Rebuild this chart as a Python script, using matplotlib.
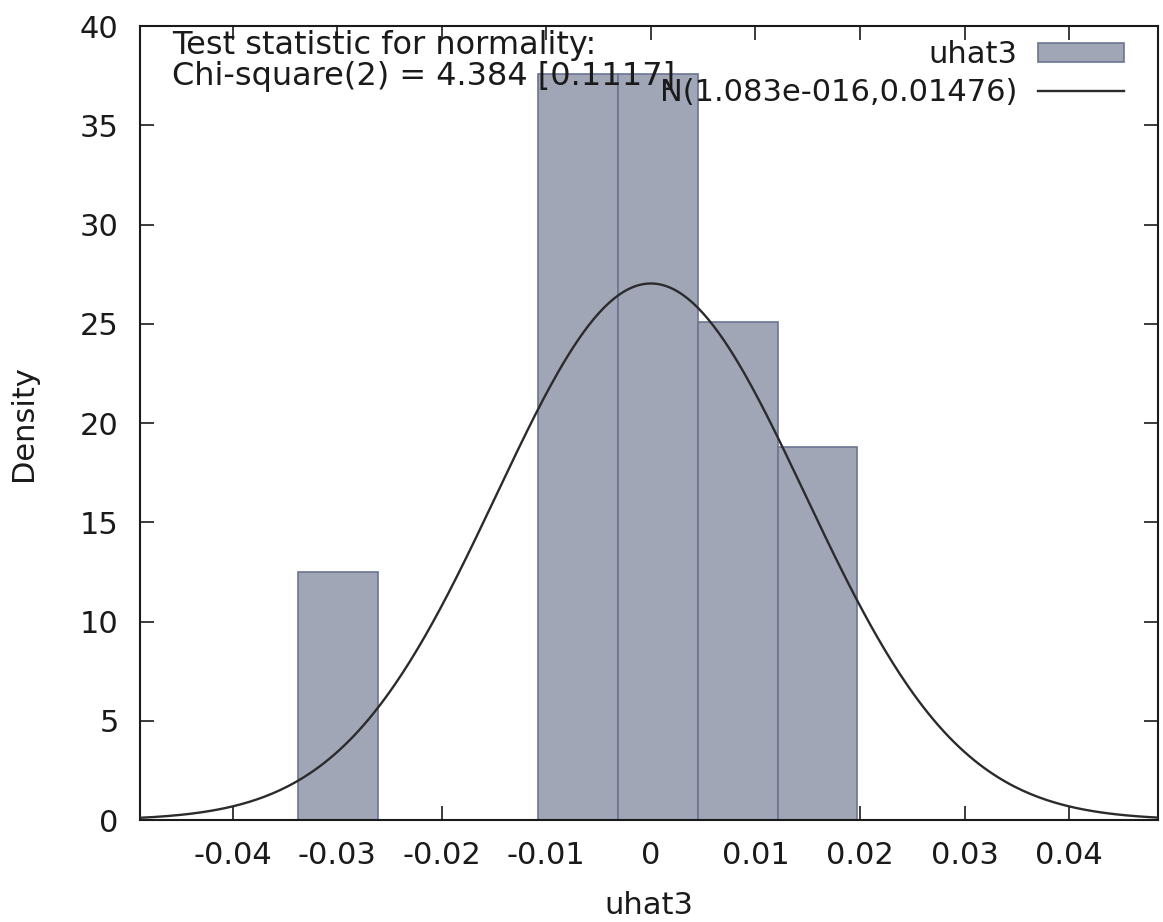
import matplotlib
import matplotlib.pyplot as plt
import numpy as np

matplotlib.use('Agg')

# histogram of uhat3 (density scale)
bin_left = [-0.03372, -0.01080, -0.00316, 0.00448, 0.01212]
bin_width = 0.00764
density = [12.5, 37.6, 37.6, 25.1, 18.8]

# normal fit shown in the legend
mu = 1.083e-16
sigma = 0.01476

x_ticks = [-0.04, -0.03, -0.02, -0.01, 0, 0.01, 0.02, 0.03, 0.04]
x_ticklabels = ['-0.04', '-0.03', '-0.02', '-0.01', '0', '0.01', '0.02', '0.03', '0.04']
y_ticks = [0, 5, 10, 15, 20, 25, 30, 35, 40]

fill_col = '#a0a6b6'
edge_col = '#6b7690'
ink = '#1a1a1a'
fs = 22

plt.rcParams['font.family'] = ['DejaVu Sans']
fig = plt.figure(figsize=(11.63, 9.22), dpi=100)
ax = fig.add_axes([0.12, 0.1106, 0.8757, 0.8612])

bars = ax.bar(bin_left, density, width=bin_width, align='edge',
              color=fill_col, edgecolor=edge_col, linewidth=1.2, zorder=2)

xs = np.linspace(-0.0489, 0.0485, 400)
pdf = 1 / (sigma * np.sqrt(2 * np.pi)) * np.exp(-(xs - mu) ** 2 / (2 * sigma ** 2))
line, = ax.plot(xs, pdf, color='#2b2b2b', linewidth=1.7, zorder=3)

ax.set_xlim(-0.0489, 0.0485)
ax.set_ylim(0, 40)
ax.set_xticks(x_ticks)
ax.set_xticklabels(x_ticklabels)
ax.set_yticks(y_ticks)
ax.tick_params(direction='in', length=10, width=1.2, top=True, right=True,
               labelsize=fs, colors=ink)
ax.tick_params(axis='x', pad=15)
ax.tick_params(axis='y', pad=15)
for s in ax.spines.values():
    s.set_linewidth(1.5)
    s.set_color(ink)

ax.set_xlabel('uhat3', fontsize=fs, labelpad=15, color=ink)
ax.set_ylabel('Density', fontsize=fs, labelpad=30, color=ink)

ax.text(0.032, 0.995, 'Test statistic for normality:\nChi-square(2) = 4.384 [0.1117]',
        transform=ax.transAxes, ha='left', va='top', fontsize=23,
        linespacing=1.0, color=ink, zorder=5)

leg = ax.legend([bars, line], ['uhat3', 'N(1.083e-016,0.01476)'],
                loc='upper right', bbox_to_anchor=(0.9666, 0.982), frameon=False,
                markerfirst=False, fontsize=fs, handlelength=2.8, handleheight=0.6,
                handletextpad=0.7, labelspacing=0.3, borderaxespad=0.0, borderpad=0.0)
for t in leg.get_texts():
    t.set_color(ink)

fig.savefig('out.png', dpi=100)
